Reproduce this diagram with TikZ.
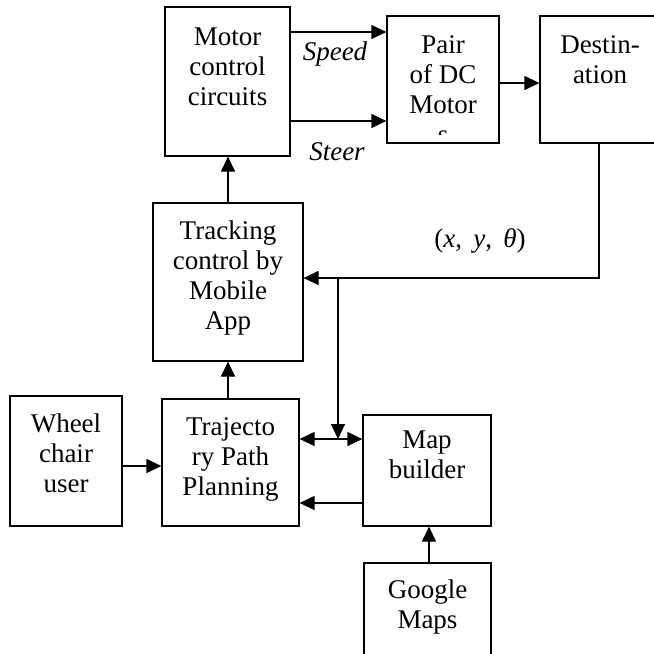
\documentclass[tikz,border=0pt]{standalone}
\usepackage{fontspec}
\setmainfont{Liberation Serif}
\usetikzlibrary{arrows.meta}
\tikzset{
  box/.style={draw, line width=1.2pt, rectangle, inner sep=0pt},
  txt/.style={align=center, inner sep=0pt, font=\fontsize{27}{30}\selectfont},
  lbl/.style={inner sep=0pt, font=\fontsize{27}{30}\selectfont\itshape},
  wire/.style={line width=1.2pt},
  tip/.style={Triangle[length=15pt,width=14pt]},
  arr/.style={wire, -{Triangle[length=15pt,width=14pt]}},
  arrs/.style={wire, {Triangle[length=15pt,width=14pt]}-{Triangle[length=15pt,width=14pt]}}
}
\begin{document}
\begin{tikzpicture}[x=1pt,y=-1pt]
\useasboundingbox (0,0) rectangle (654,654);
\clip (0,0) rectangle (654,654);
\fill[white] (0,0) rectangle (654,654);

% blocks
\node[box, minimum width=125pt, minimum height=149pt] (motor) at (227.5,81.5) {};
\node[box, minimum width=112pt, minimum height=127pt] (pair)  at (443,79.5) {};
\node[box, minimum width=160pt, minimum height=127pt] (dest)  at (620,79.5) {};
\node[box, minimum width=150pt, minimum height=158pt] (track) at (228,282) {};
\node[box, minimum width=112pt, minimum height=130pt] (wheel) at (66,461) {};
\node[box, minimum width=137pt, minimum height=127pt] (traj)  at (230.5,462.5) {};
\node[box, minimum width=128pt, minimum height=111pt] (map)   at (427,470.5) {};
\node[box, minimum width=127pt, minimum height=120pt] (google) at (427.5,623) {};

% block texts (first baseline = top + 21pt)
\node[txt, anchor=north] (motorT) at (227.5,24) {\strut Motor\\control\\circuits};
\node[txt, anchor=north] (pairT)  at (443,32)   {\strut Pair\\of DC\\Motor};
\begin{scope}
  \clip (425,130.5) rectangle (460,134);
  \node[txt, anchor=base] (pairS) at (443,143) {s};
\end{scope}
\node[txt, anchor=north] (destT)  at (600,32)   {\strut Destin-\\ation};
\node[txt, anchor=north] (trackT) at (228,218)  {\strut Tracking\\control by\\Mobile\\App};
\node[txt, anchor=north] (wheelT) at (66,411)   {\strut Wheel\\chair\\user};
\node[txt, anchor=north] (trajT)  at (230.5,414){\strut Trajecto\\ry Path\\Planning};
\node[txt, anchor=north] (mapT)   at (427,427)  {\strut Map\\builder};
\node[txt, anchor=north] (googleT) at (427.5,577){\strut Google\\Maps};

% signal labels
\node[lbl, anchor=base] (speedL) at (335,60)  {Speed};
\node[lbl, anchor=base] (steerL) at (337,160) {Steer};
\node[txt, anchor=base] (poseL)  at (480,247) {(\textit{x},\, \textit{y},\, \textit{θ})};

% junction points
\coordinate (fb) at (599,278);
\coordinate (jn) at (338,278);
\coordinate (jd) at (338,439);

% connectors
\draw[arr] (motor.east |- 0,32)  -- (pair.west |- 0,32);
\draw[arr] (motor.east |- 0,121) -- (pair.west |- 0,121);
\draw[arr] (pair.east |- 0,83) -- (dest.west |- 0,83);
\draw[arr] (track.north) -- (track.north |- motor.south);
\draw[arr] (dest.south -| fb) -- (fb) -- (fb -| track.east);
\draw[arr] (jn) -- (jd);
\draw[arrs] (traj.east |- jd) -- (map.west |- jd);
\draw[arr] (map.west |- 0,503) -- (traj.east |- 0,503);
\draw[arr] (traj.north -| track.north) -- (track.south);
\draw[arr] (wheel.east |- 0,466) -- (traj.west |- 0,466);
\draw[arr] (google.north -| 429,0) -- (map.south -| 429,0);
\end{tikzpicture}
\end{document}
